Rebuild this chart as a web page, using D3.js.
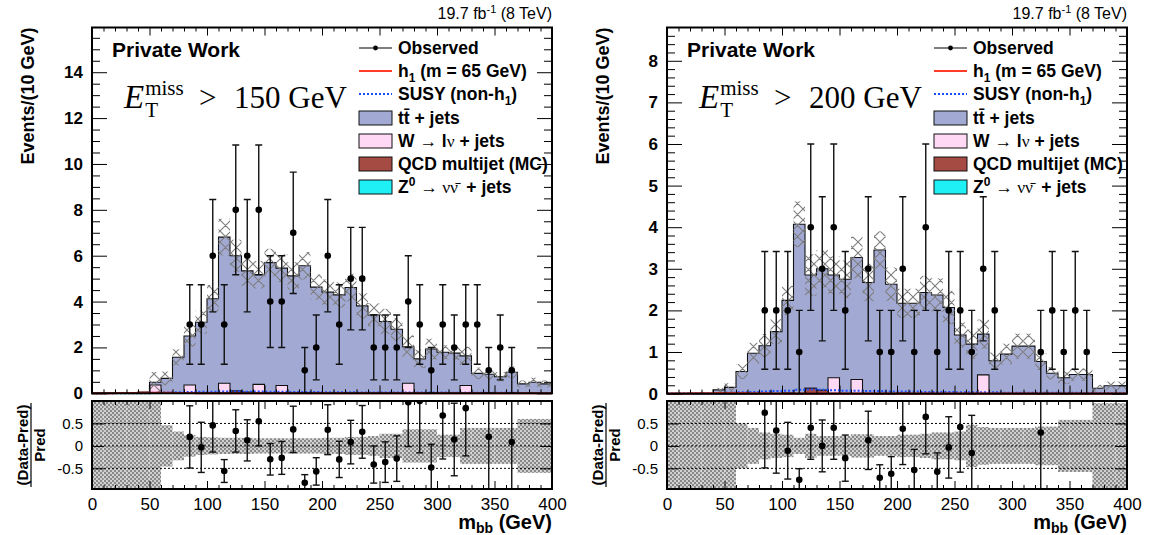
<!DOCTYPE html>
<html><head><meta charset="utf-8">
<script src="https://cdn.jsdelivr.net/npm/d3@7"></script>
<style>body{margin:0;background:#fff}svg{display:block}</style>
</head><body>
<svg id="c" width="1152" height="535"></svg>
<script>
// ---------------- data ----------------
const binEdges = [0,10,20,30,40,50,60,70,80,90,100,110,120,130,140,150,160,170,180,190,200,
  210,220,230,240,250,260,270,280,290,300,310,320,330,340,350,360,370,380,390,400];
const xTickLabels = [0,50,100,150,200,250,300,350,400];
const ratioTicks = [-0.5,0,0.5];
const yTicksLeft = [0,2,4,6,8,10,12,14];
const yTicksRight = [0,1,2,3,4,5,6,7,8];

// MET > 150 GeV
const ttL   = [0,0,0,0,0.05,0.12,0.65,1.57,2.14,3.1,4.12,6.37,5.9,5.30,4.78,5.7,5.12,5.12,5.56,4.61,4.41,4.29,4.61,3.81,3.40,3.13,2.79,1.59,1.5,1.93,1.79,1.75,1.29,0.87,0.83,0.72,0.92,0.41,0.48,0.41];
const wL    = [0,0,0,0,0,0.36,0,0,0.36,0,0,0.44,0,0,0.39,0,0.34,0,0,0,0,0,0,0,0,0,0,0.44,0,0,0,0,0.34,0,0,0,0,0,0,0];
const qcdL  = [0,0,0,0,0,0,0,0,0,0,0,0,0.10,0.04,0,0,0,0,0,0,0,0,0,0,0,0,0,0,0,0,0,0,0,0,0,0,0,0,0,0];
const zL    = [0,0,0,0,0,0,0,0,0,0,0,0,0,0,0,0,0,0,0,0.02,0,0,0,0,0.02,0,0,0,0,0,0,0,0,0,0,0,0,0,0,0];
const h1L   = [0.005,0.005,0.01,0.01,0.02,0.02,0.02,0.01,0.01,0.005,0.005,0.005,0.005,0.005,0.005,0.005,0.005,0.005,0.005,0.005,0.005,0.005,0.005,0.005,0.005,0.005,0.005,0.005,0.005,0.005,0.005,0.005,0.005,0.005,0.005,0.005,0.005,0.005,0.005,0.005];
const susyL = [0,0,0,0,0,0.02,0.04,0.05,0.06,0.07,0.07,0.08,0.08,0.07,0.08,0.07,0.07,0.06,0.06,0.06,0.05,0.05,0.05,0.04,0.04,0.04,0.04,0.03,0.03,0.03,0.03,0.02,0.02,0.02,0.02,0.02,0.02,0.01,0.01,0.01];
const obsL  = [0,0,0,0,0,0,0,0,3,3,6,3,8,6,8,4,4,7,1,2,6,3,5,5,2,2,2,4,3,1,3,2,3,3,1,2,1,0,0,0];
const bandTopL   = [0,0,0,0,0.05,0.45,0.3,0.35,0.47,0.5,0.6,0.8,0.7,0.65,0.6,0.6,0.6,0.6,0.6,0.55,0.55,0.55,0.6,0.55,0.5,0.55,0.5,0.5,0.4,0.45,0.3,0.3,0.4,0.25,0.25,0.2,0.25,0.15,0.2,0.15];
const bandRatioL = [9,9,9,9,9,9,0.46,0.32,0.24,0.2,0.19,0.18,0.18,0.18,0.17,0.17,0.17,0.17,0.17,0.17,0.18,0.18,0.2,0.2,0.22,0.27,0.27,0.37,0.37,0.37,0.25,0.25,0.4,0.4,0.4,0.4,0.4,0.6,0.6,0.6];

// MET > 200 GeV
const ttR   = [0,0,0,0,0.09,0.15,0.53,0.97,1.15,1.49,2.23,4.07,2.72,2.92,2.47,2.75,2.93,2.67,3.45,2.63,2.16,2.17,2.43,2.37,2.07,1.41,1.19,0.98,0.79,0.95,1.14,1.14,0.77,0.49,0.38,0.46,0.46,0.13,0.19,0.19];
const wR    = [0,0,0,0,0,0,0,0,0,0,0,0,0,0,0.38,0,0.34,0,0,0,0,0,0,0,0,0,0,0.45,0,0,0,0,0,0,0,0,0,0,0,0];
const qcdR  = [0,0,0,0,0,0,0,0,0,0,0,0,0.13,0.08,0,0,0,0,0,0,0,0,0,0,0,0,0,0,0,0,0,0,0,0,0,0,0,0,0,0];
const zR    = [0,0,0,0,0,0,0,0,0,0,0.01,0,0,0,0,0,0,0,0,0,0.01,0,0,0,0,0,0,0,0,0,0,0,0,0,0,0,0,0,0,0];
const h1R   = [0.005,0.005,0.01,0.01,0.015,0.015,0.015,0.01,0.01,0.005,0.005,0.005,0.005,0.005,0.005,0.005,0.005,0.005,0.005,0.005,0.005,0.005,0.005,0.005,0.005,0.005,0.005,0.005,0.005,0.005,0.005,0.005,0.005,0.005,0.005,0.005,0.005,0.005,0.005,0.005];
const susyR = [0,0,0,0,0,0.02,0.03,0.04,0.05,0.06,0.07,0.09,0.1,0.09,0.08,0.07,0.07,0.06,0.06,0.05,0.05,0.05,0.04,0.04,0.04,0.03,0.03,0.03,0.03,0.02,0.02,0.02,0.02,0.02,0.02,0.02,0.01,0.01,0.01,0.01];
const obsR  = [0,0,0,0,0,0,0,0,2,2,2,1,4,3,4,2,0,3,1,1,3,1,4,1,2,2,1,3,2,0,0,0,1,2,1,2,1,0,0,0];
const bandTopR   = [0,0,0,0,0.05,0.1,0.18,0.25,0.28,0.3,0.35,0.55,0.5,0.45,0.45,0.45,0.5,0.45,0.45,0.4,0.35,0.35,0.4,0.4,0.4,0.3,0.35,0.35,0.2,0.25,0.3,0.3,0.2,0.15,0.15,0.15,0.15,0.08,0.1,0.1];
const bandRatioR = [9,9,9,9,9,9,0.5,0.4,0.3,0.27,0.25,0.18,0.27,0.22,0.22,0.22,0.26,0.26,0.22,0.22,0.25,0.25,0.27,0.3,0.3,0.32,0.47,0.42,0.4,0.4,0.4,0.4,0.43,0.43,0.58,0.58,0.58,0.95,0.95,0.95];

const legendLabels = ["Observed","h1 (m = 65 GeV)","SUSY (non-h1)","tt + jets","W → lν + jets","QCD multijet (MC)","Z0 → νν + jets"];
const colors = {tt:"#a2aad4", w:"#ffd8f6", qcd:"#a64a44", z:"#1ff0f6", h1:"#ff3b2b", susy:"#1c4cff"};

// ---------------- drawing ----------------
const svg = d3.select("#c");
const defs = svg.append("defs");
const hp = defs.append("pattern").attr("id","hatch").attr("patternUnits","userSpaceOnUse")
  .attr("width",11).attr("height",11);
hp.append("path").attr("d","M0,0L11,11M11,0L0,11M-1,10L1,12M10,-1L12,1M-1,1L1,-1M10,12L12,10")
  .attr("stroke","#7d7d7d").attr("stroke-width",1.1).attr("fill","none");
const cp = defs.append("pattern").attr("id","checker").attr("patternUnits","userSpaceOnUse")
  .attr("width",4).attr("height",4);
cp.append("rect").attr("x",0).attr("y",0).attr("width",2).attr("height",2).attr("fill","#888");
cp.append("rect").attr("x",2).attr("y",2).attr("width",2).attr("height",2).attr("fill","#888");
cp.append("rect").attr("x",2).attr("y",0).attr("width",2).attr("height",2).attr("fill","#d0d0d0");
cp.append("rect").attr("x",0).attr("y",2).attr("width",2).attr("height",2).attr("fill","#d0d0d0");

const SANS = "'Liberation Sans', Arial, Helvetica, sans-serif";
const SERIF = "'Liberation Serif', 'Times New Roman', serif";

function panel(cfg){
  const x = d3.scaleLinear().domain([0,400]).range([cfg.x0,cfg.x1]);
  const y = d3.scaleLinear().domain([0,cfg.ymax]).range([cfg.yb,cfg.yt]);
  const yr = d3.scaleLinear().domain([-0.96,1.0]).range([cfg.rb,cfg.rt]);
  const g = svg.append("g");
  const n = cfg.tt.length;
  const cz = cfg.z.map(v=>v);
  const cq = cz.map((v,i)=>v+cfg.qcd[i]);
  const cw = cq.map((v,i)=>v+cfg.w[i]);
  const ct = cw.map((v,i)=>v+cfg.tt[i]);

  defs.append("clipPath").attr("id","ct"+cfg.id).append("rect")
    .attr("x",cfg.x0).attr("y",cfg.yt).attr("width",cfg.x1-cfg.x0).attr("height",cfg.yb-cfg.yt+3);
  defs.append("clipPath").attr("id","cr"+cfg.id).append("rect")
    .attr("x",cfg.x0).attr("y",cfg.rt).attr("width",cfg.x1-cfg.x0).attr("height",cfg.rb-cfg.rt);

  const top = g.append("g").attr("clip-path",`url(#ct${cfg.id})`);
  const stepPts = vals => { const p=[]; vals.forEach((v,i)=>{p.push([binEdges[i],v]);p.push([binEdges[i+1],v]);}); return p; };
  const line = d3.line().x(d=>x(d[0])).y(d=>y(d[1]));
  const closed = vals => { const p=[[0,0],...stepPts(vals),[400,0]]; return line(p)+"Z"; };

  [[ct,colors.tt],[cw,colors.w],[cq,colors.qcd],[cz,colors.z]].forEach(([vals,col])=>{
    top.append("path").attr("d",closed(vals)).attr("fill",col).attr("stroke","#111").attr("stroke-width",1.1);
  });
  top.selectAll("rect.band").data(d3.range(n).filter(i=>ct[i]>0)).enter().append("rect")
    .attr("x",i=>x(binEdges[i])).attr("width",i=>x(binEdges[i+1])-x(binEdges[i]))
    .attr("y",i=>y(ct[i]+cfg.bandTop[i]))
    .attr("height",i=>y(Math.max(0,ct[i]-cfg.bandTop[i]))-y(ct[i]+cfg.bandTop[i]))
    .attr("fill","url(#hatch)");
  top.append("path").attr("d",line(stepPts(cfg.susy))).attr("fill","none")
    .attr("stroke",colors.susy).attr("stroke-width",2).attr("stroke-dasharray","2,2");
  top.append("path").attr("d",line(stepPts(cfg.h1))).attr("fill","none")
    .attr("stroke",colors.h1).attr("stroke-width",2);

  const cx = i => x((binEdges[i]+binEdges[i+1])/2);
  const pts = d3.range(n).filter(i=>cfg.obs[i]>0);
  const dg = top.append("g");
  pts.forEach(i=>{
    const v=cfg.obs[i], e=Math.sqrt(v);
    const xi=cx(i), ya=y(v+e), yb2=y(v-e);
    dg.append("line").attr("x1",xi).attr("x2",xi).attr("y1",ya).attr("y2",yb2).attr("stroke","#111").attr("stroke-width",1.4);
    [ya,yb2].forEach(yy=>dg.append("line").attr("x1",xi-3.5).attr("x2",xi+3.5).attr("y1",yy).attr("y2",yy).attr("stroke","#111").attr("stroke-width",1.4));
    dg.append("circle").attr("cx",xi).attr("cy",y(v)).attr("r",3.3).attr("fill","#000");
  });

  const rg = g.append("g").attr("clip-path",`url(#cr${cfg.id})`);
  d3.range(n).forEach(i=>{
    const r = Math.min(cfg.bandRatio[i],2);
    rg.append("rect").attr("x",x(binEdges[i])).attr("width",x(binEdges[i+1])-x(binEdges[i]))
      .attr("y",yr(r)).attr("height",yr(-r)-yr(r)).attr("fill","url(#checker)");
  });
  ratioTicks.forEach(t=>{
    rg.append("line").attr("x1",cfg.x0).attr("x2",cfg.x1).attr("y1",yr(t)).attr("y2",yr(t))
      .attr("stroke","#000").attr("stroke-width",1).attr("stroke-dasharray","2,2");
  });
  pts.forEach(i=>{
    if(ct[i]<=0) return;
    const v=cfg.obs[i], r=v/ct[i]-1, e=Math.sqrt(v)/ct[i];
    if(r>1.01||r<-0.97) return;
    const xi=cx(i);
    rg.append("line").attr("x1",xi).attr("x2",xi).attr("y1",yr(r+e)).attr("y2",yr(r-e)).attr("stroke","#111").attr("stroke-width",1.4);
    [r+e,r-e].forEach(rv=>{ if(rv<1.0&&rv>-0.96) rg.append("line").attr("x1",xi-3.5).attr("x2",xi+3.5).attr("y1",yr(rv)).attr("y2",yr(rv)).attr("stroke","#111").attr("stroke-width",1.4);});
    rg.append("circle").attr("cx",xi).attr("cy",yr(r)).attr("r",3.3).attr("fill","#000");
  });

  const minorX = binEdges.filter(v=>v%50!==0);
  const ax = (axis, tx, ty) => {
    const a = g.append("g").attr("transform",`translate(${tx},${ty})`).call(axis);
    a.select(".domain").remove();
    a.selectAll("line").attr("stroke","#000").attr("stroke-width",1);
    return a;
  };
  ax(d3.axisBottom(x).tickValues(xTickLabels).tickSize(-8).tickFormat(""),0,cfg.yb);
  ax(d3.axisBottom(x).tickValues(minorX).tickSize(-4).tickFormat(""),0,cfg.yb);
  ax(d3.axisTop(x).tickValues(xTickLabels).tickSize(-8).tickFormat(""),0,cfg.yt);
  ax(d3.axisTop(x).tickValues(minorX).tickSize(-4).tickFormat(""),0,cfg.yt);
  const yl = ax(d3.axisLeft(y).tickValues(cfg.yTicks).tickSize(-15).tickPadding(9),cfg.x0,0);
  yl.selectAll("text").attr("font-family",SANS).attr("font-size",17).attr("font-weight","bold").attr("fill","#000");
  ax(d3.axisLeft(y).tickValues(cfg.yMinor).tickSize(-8).tickFormat(""),cfg.x0,0);
  ax(d3.axisRight(y).tickValues(cfg.yTicks).tickSize(-15).tickFormat(""),cfg.x1,0);
  ax(d3.axisRight(y).tickValues(cfg.yMinor).tickSize(-8).tickFormat(""),cfg.x1,0);
  const xb = ax(d3.axisBottom(x).tickValues(xTickLabels).tickSize(-8).tickPadding(9),0,cfg.rb);
  xb.selectAll("text").attr("font-family",SANS).attr("font-size",17).attr("fill","#000");
  ax(d3.axisBottom(x).tickValues(minorX).tickSize(-4).tickFormat(""),0,cfg.rb);
  ax(d3.axisTop(x).tickValues(xTickLabels).tickSize(-8).tickFormat(""),0,cfg.rt);
  ax(d3.axisTop(x).tickValues(minorX).tickSize(-4).tickFormat(""),0,cfg.rt);
  const yrl = ax(d3.axisLeft(yr).tickValues(ratioTicks).tickSize(-12).tickPadding(9).tickFormat(d=>d===0?"0":String(d)),cfg.x0,0);
  yrl.selectAll("text").attr("font-family",SANS).attr("font-size",15).attr("fill","#000");
  ax(d3.axisRight(yr).tickValues(ratioTicks).tickSize(-12).tickFormat(""),cfg.x1,0);

  g.append("rect").attr("x",cfg.x0).attr("y",cfg.yt).attr("width",cfg.x1-cfg.x0).attr("height",cfg.yb-cfg.yt)
    .attr("fill","none").attr("stroke","#000").attr("stroke-width",2);
  g.append("rect").attr("x",cfg.x0).attr("y",cfg.rt).attr("width",cfg.x1-cfg.x0).attr("height",cfg.rb-cfg.rt)
    .attr("fill","none").attr("stroke","#000").attr("stroke-width",2);

  const lumi = g.append("text").attr("x",cfg.x1).attr("y",19).attr("text-anchor","end")
    .attr("font-family",SANS).attr("font-size",16);
  lumi.append("tspan").text("19.7 fb");
  lumi.append("tspan").attr("font-size",11).attr("dy",-6).text("-1");
  lumi.append("tspan").attr("dy",6).text(" (8 TeV)");

  g.append("text").attr("x",cfg.x0+20).attr("y",57).attr("font-family",SANS).attr("font-weight","bold")
    .attr("font-size",21).text("Private Work");

  // E_T^miss label
  const ex = cfg.x0+32, ey = 108;
  const te = g.append("text").attr("font-family",SERIF).attr("fill","#000");
  const tE = te.append("tspan").attr("x",ex).attr("y",ey).attr("font-style","italic").attr("font-size",33).text("E");
  const wE = tE.node().getComputedTextLength();
  te.append("tspan").attr("x",ex+wE+1).attr("y",ey-13).attr("font-size",21).text("miss");
  te.append("tspan").attr("x",ex+wE+1).attr("y",ey+9).attr("font-size",21).text("T");
  te.append("tspan").attr("x",cfg.x0+107).attr("y",ey).attr("font-size",31).text(">");
  te.append("tspan").attr("x",cfg.x0+142).attr("y",ey).attr("font-size",31).text(cfg.cut);

  g.append("text").attr("transform",`translate(${cfg.x0-58},${cfg.yt})rotate(-90)`).attr("text-anchor","end")
    .attr("font-family",SANS).attr("font-weight","bold").attr("font-size",18).text("Events/(10 GeV)");
  const rc = (cfg.rt+cfg.rb)/2;
  g.append("text").attr("transform",`translate(${cfg.x0-64},${rc})rotate(-90)`).attr("text-anchor","middle")
    .attr("font-family",SANS).attr("font-weight","bold").attr("font-size",15).text("(Data-Pred)");
  g.append("line").attr("x1",cfg.x0-61).attr("x2",cfg.x0-61).attr("y1",rc-42).attr("y2",rc+42).attr("stroke","#000").attr("stroke-width",1.2);
  g.append("text").attr("transform",`translate(${cfg.x0-47},${rc})rotate(-90)`).attr("text-anchor","middle")
    .attr("font-family",SANS).attr("font-weight","bold").attr("font-size",15).text("Pred");
  const xt = g.append("text").attr("x",cfg.x1).attr("y",529).attr("text-anchor","end")
    .attr("font-family",SANS).attr("font-weight","bold").attr("font-size",20);
  xt.append("tspan").text("m");
  xt.append("tspan").attr("font-size",14).attr("dy",4).text("bb");
  xt.append("tspan").attr("dy",-4).text(" (GeV)");

  const lx0 = cfg.x0+267, lx1 = cfg.x0+300, tx = cfg.x0+306;
  const rows = [48,71,94,118,141,164,187];
  const lg = g.append("g");
  const lt = (i)=> lg.append("text").attr("x",tx).attr("y",rows[i]+6).attr("font-family",SANS)
      .attr("font-weight","bold").attr("font-size",17.5);
  lg.append("line").attr("x1",lx0).attr("x2",lx1).attr("y1",rows[0]).attr("y2",rows[0]).attr("stroke","#555").attr("stroke-width",1.4);
  lg.append("circle").attr("cx",(lx0+lx1)/2).attr("cy",rows[0]).attr("r",2.4).attr("fill","#000");
  lt(0).text(legendLabels[0]);
  lg.append("line").attr("x1",lx0).attr("x2",lx1).attr("y1",rows[1]).attr("y2",rows[1]).attr("stroke",colors.h1).attr("stroke-width",2);
  let t = lt(1); t.append("tspan").text("h"); t.append("tspan").attr("font-size",12).attr("dy",5).text("1");
  t.append("tspan").attr("dy",-5).text(" (m = 65 GeV)");
  lg.append("line").attr("x1",lx0).attr("x2",lx1).attr("y1",rows[2]).attr("y2",rows[2]).attr("stroke",colors.susy).attr("stroke-width",2).attr("stroke-dasharray","2,2");
  t = lt(2); t.append("tspan").text("SUSY (non-h"); t.append("tspan").attr("font-size",12).attr("dy",5).text("1");
  t.append("tspan").attr("dy",-5).text(")");
  [[3,colors.tt],[4,colors.w],[5,colors.qcd],[6,colors.z]].forEach(([i,c])=>{
    lg.append("rect").attr("x",lx0).attr("y",rows[i]-7).attr("width",lx1-lx0).attr("height",14)
      .attr("fill",c).attr("stroke","#111").attr("stroke-width",1);
  });
  t = lt(3); t.append("tspan").text("t");
  t.append("tspan").text("t\u0304");
  t.append("tspan").text(" + jets");
  t = lt(4); t.append("tspan").text("W ");
  t.append("tspan").attr("font-family",SERIF).attr("font-weight","normal").text("\u2192");
  t.append("tspan").text(" l");
  t.append("tspan").attr("font-family",SERIF).attr("font-weight","normal").text("\u03bd");
  t.append("tspan").text(" + jets");
  lt(5).text(legendLabels[5]);
  t = lt(6); t.append("tspan").text("Z");
  t.append("tspan").attr("font-size",12).attr("dy",-7).text("0");
  t.append("tspan").attr("dy",7).text(" ");
  t.append("tspan").attr("font-family",SERIF).attr("font-weight","normal").text("\u2192 \u03bd\u03bd\u0304");
  t.append("tspan").text("\u2009 + jets");
}

panel({id:"L", x0:92, x1:552, yt:27.5, yb:393.3, ymax:15.95, rt:401, rb:489,
  yTicks:yTicksLeft, yMinor:[0.5,1,1.5,2.5,3,3.5,4.5,5,5.5,6.5,7,7.5,8.5,9,9.5,10.5,11,11.5,12.5,13,13.5,14.5,15,15.5],
  tt:ttL, w:wL, qcd:qcdL, z:zL, h1:h1L, susy:susyL, obs:obsL, bandTop:bandTopL, bandRatio:bandRatioL,
  cut:"150 GeV"});
panel({id:"R", x0:667, x1:1127, yt:27.5, yb:393.6, ymax:8.8, rt:401, rb:489,
  yTicks:yTicksRight, yMinor:[0.2,0.4,0.6,0.8,1.2,1.4,1.6,1.8,2.2,2.4,2.6,2.8,3.2,3.4,3.6,3.8,4.2,4.4,4.6,4.8,5.2,5.4,5.6,5.8,6.2,6.4,6.6,6.8,7.2,7.4,7.6,7.8,8.2,8.4,8.6],
  tt:ttR, w:wR, qcd:qcdR, z:zR, h1:h1R, susy:susyR, obs:obsR, bandTop:bandTopR, bandRatio:bandRatioR,
  cut:"200 GeV"});
</script>
</body></html>
